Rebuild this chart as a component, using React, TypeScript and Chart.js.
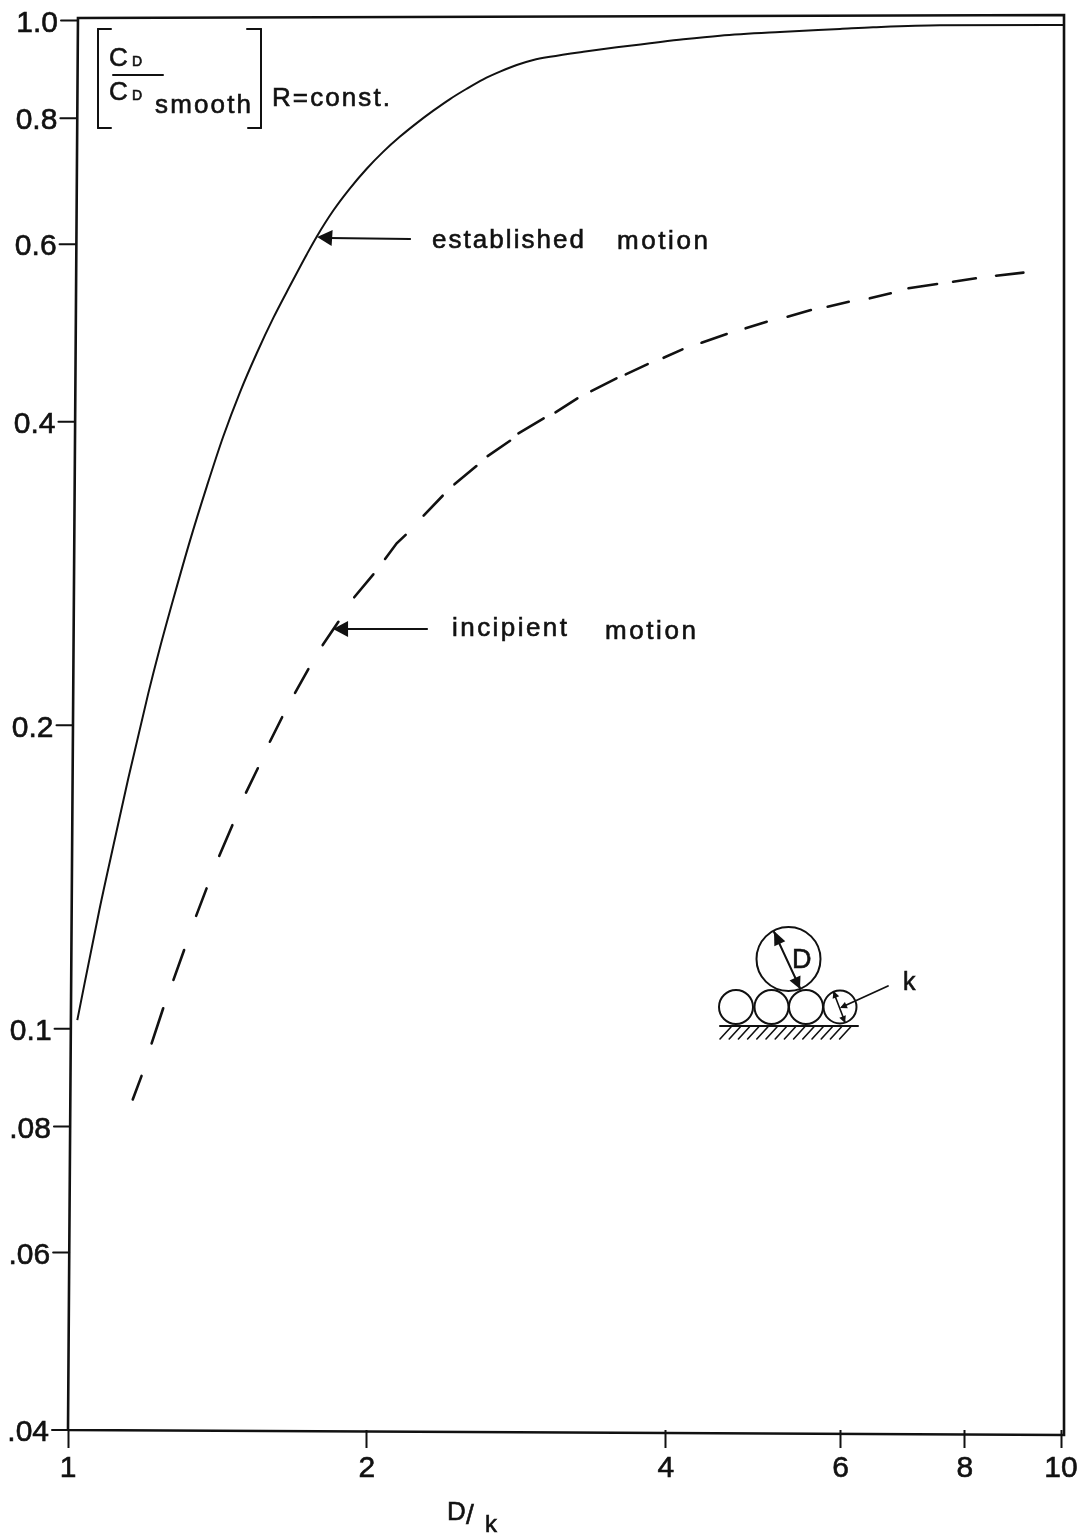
import React, { useEffect, useRef } from "react";
import { Chart, registerables } from "chart.js";

Chart.register(...registerables);

// D/k tick marks and labels
const xTickValues = [1, 2, 4, 6, 8, 10];
const xTickLabels = ["1", "2", "4", "6", "8", "10"];
// drag ratio tick marks and labels
const yTickValues = [1.0, 0.8, 0.6, 0.4, 0.2, 0.1, 0.08, 0.06, 0.04];
const yTickLabels = ["1.0", "0.8", "0.6", "0.4", "0.2", "0.1", ".08", ".06", ".04"];

// established motion (solid curve)
const establishedX = [1.0218, 1.0753, 1.1152, 1.1501, 1.2046, 1.2359, 1.2766, 1.327, 1.3795, 1.4333, 1.4899, 1.549, 1.6098, 1.6733, 1.7394, 1.7802, 1.85, 1.923, 1.999, 2.0777, 2.1597, 2.2447, 2.3328, 2.4249, 2.5206, 2.6196, 2.723, 2.8305, 2.9418, 3.0578, 3.3034, 3.5691, 3.8557, 4.166, 4.5353, 5.2121, 5.99, 6.467, 7.552, 10.05];
const establishedY = [0.102, 0.1311, 0.1545, 0.1772, 0.2151, 0.2375, 0.2668, 0.3049, 0.3449, 0.3867, 0.4278, 0.4677, 0.507, 0.5456, 0.5861, 0.6104, 0.6479, 0.6816, 0.7128, 0.7412, 0.7671, 0.7911, 0.8139, 0.8358, 0.8557, 0.8743, 0.8897, 0.9034, 0.9138, 0.9206, 0.9312, 0.9406, 0.9493, 0.958, 0.9659, 0.9741, 0.9808, 0.9846, 0.9893, 0.9898];

// incipient motion (hand-drawn dashes, null separates one dash from the next)
const incipientX = [1.162, 1.186, 1.186, 1.214, 1.247, 1.247, 1.277, 1.309, 1.309, 1.346, 1.379, 1.379, 1.42, 1.464, 1.464, 1.511, 1.553, 1.553, 1.597, 1.643, 1.643, 1.693, 1.746, 1.746, 1.805, 1.872, 1.872, 1.942, 2.03, 2.03, 2.086, 2.143, 2.188, 2.188, 2.281, 2.384, 2.384, 2.45, 2.578, 2.578, 2.646, 2.787, 2.787, 2.842, 3.013, 3.013, 3.097, 3.258, 3.258, 3.365, 3.567, 3.567, 3.645, 3.835, 3.835, 3.979, 4.157, 4.157, 4.345, 4.606, 4.606, 4.813, 5.054, 5.054, 5.305, 5.599, 5.599, 5.821, 6.113, 6.113, 6.419, 6.739, 6.739, 7.021, 7.502, 7.502, 7.786, 8.208, 8.208, 8.602, 9.165];
const incipientY = [0.0851, 0.0898, null, 0.0967, 0.1048, null, 0.1118, 0.1197, null, 0.1294, 0.1378, null, 0.1484, 0.1592, null, 0.1715, 0.1813, null, 0.1926, 0.2037, null, 0.2154, 0.2274, null, 0.2402, 0.2533, null, 0.2679, 0.2823, null, 0.2924, 0.303, 0.3089, null, 0.3228, 0.3378, null, 0.3467, 0.3615, null, 0.3698, 0.383, null, 0.3896, 0.4031, null, 0.4087, 0.4219, null, 0.429, 0.4416, null, 0.4457, 0.4563, null, 0.4629, 0.4719, null, 0.4791, 0.4887, null, 0.4951, 0.5026, null, 0.5084, 0.5162, null, 0.5201, 0.5261, null, 0.5302, 0.5363, null, 0.5425, 0.5478, null, 0.5507, 0.555, null, 0.5583, 0.5623];

// the hand-ruled plot frame is slightly out of square
const frameX = [1.0, 1.0234, 10.07, 10.07, 1.0];
const frameY = [0.04, 1.0057, 1.0126, 0.03954, 0.04];

const INK = "#111111";
const AXIS_FAMILY = "Liberation Sans";
const AXIS_FONT = `30px "${AXIS_FAMILY}"`;
const NOTE_FONT = '"Liberation Sans"';

function fitText(ctx: CanvasRenderingContext2D, text: string, x0: number, x1: number, base: number, font: string) {
  ctx.font = font;
  (ctx as any).letterSpacing = "0px";
  const w = ctx.measureText(text).width;
  const n = Math.max(text.length - 1, 1);
  (ctx as any).letterSpacing = `${(x1 - x0 - w) / n}px`;
  ctx.textAlign = "left";
  ctx.textBaseline = "alphabetic";
  ctx.lineWidth = 0.6;
  ctx.strokeText(text, x0, base);
  ctx.fillText(text, x0, base);
  (ctx as any).letterSpacing = "0px";
}

function seg(ctx: CanvasRenderingContext2D, x0: number, y0: number, x1: number, y1: number, w: number) {
  ctx.lineWidth = w;
  ctx.beginPath();
  ctx.moveTo(x0, y0);
  ctx.lineTo(x1, y1);
  ctx.stroke();
}

function head(ctx: CanvasRenderingContext2D, tx: number, ty: number, fx: number, fy: number, len: number, half: number) {
  const a = Math.atan2(fy - ty, fx - tx);
  const bx = tx + Math.cos(a) * len;
  const by = ty + Math.sin(a) * len;
  ctx.beginPath();
  ctx.moveTo(tx, ty);
  ctx.lineTo(bx - Math.sin(a) * half, by + Math.cos(a) * half);
  ctx.lineTo(bx + Math.sin(a) * half, by - Math.cos(a) * half);
  ctx.closePath();
  ctx.fill();
}

function circle(ctx: CanvasRenderingContext2D, x: number, y: number, r: number) {
  ctx.lineWidth = 2;
  ctx.beginPath();
  ctx.arc(x, y, r, 0, Math.PI * 2);
  ctx.stroke();
}

const overlay = {
  id: "overlay",
  afterDraw(chart: any) {
    const ctx: CanvasRenderingContext2D = chart.ctx;
    const xs = chart.scales.x;
    const ys = chart.scales.y;
    ctx.save();
    ctx.strokeStyle = INK;
    ctx.fillStyle = INK;
    ctx.lineCap = "round";

    // y ticks follow the slanted left edge of the frame
    const bottom = ys.getPixelForValue(0.04);
    yTickValues.forEach((v, i) => {
      const py = ys.getPixelForValue(v);
      const lean = (9 * (bottom - py)) / (bottom - ys.getPixelForValue(1));
      seg(ctx, xs.left + lean, py, xs.left + lean - 16, py, 2);
      ctx.font = AXIS_FONT;
      ctx.textAlign = "right";
      ctx.textBaseline = "middle";
      ctx.lineWidth = 0.6;
      ctx.strokeText(yTickLabels[i], xs.left - 19 + lean, py + 3);
      ctx.fillText(yTickLabels[i], xs.left - 19 + lean, py + 3);
    });

    // bracketed ordinate label
    seg(ctx, 98, 29, 98, 128, 2);
    seg(ctx, 98, 29, 111, 29, 2);
    seg(ctx, 98, 128, 111, 128, 2);
    seg(ctx, 261, 29, 261, 128, 2);
    seg(ctx, 261, 29, 247, 29, 2);
    seg(ctx, 261, 128, 248, 128, 2);
    seg(ctx, 113, 75, 163, 75, 2);
    fitText(ctx, "C", 109, 124, 66, `26px ${NOTE_FONT}`);
    fitText(ctx, "D", 132, 142, 66, `14px ${NOTE_FONT}`);
    fitText(ctx, "C", 109, 124, 100, `26px ${NOTE_FONT}`);
    fitText(ctx, "D", 132, 142, 100, `14px ${NOTE_FONT}`);
    fitText(ctx, "smooth", 155, 251, 113, `26px ${NOTE_FONT}`);
    fitText(ctx, "R=const.", 272, 390, 106, `26px ${NOTE_FONT}`);

    // curve annotations
    const ex = xs.getPixelForValue(1.782);
    const ey = ys.getPixelForValue(0.61);
    head(ctx, ex, ey, ex + 15, ey + 1, 15, 8);
    seg(ctx, ex + 12, ey + 1, ex + 93, ey + 2, 2);
    fitText(ctx, "established", 432, 584, 248, `26px ${NOTE_FONT}`);
    fitText(ctx, "motion", 617, 708, 249, `26px ${NOTE_FONT}`);

    const ix = xs.getPixelForValue(1.849);
    const iy = ys.getPixelForValue(0.2491);
    head(ctx, ix, iy, ix + 15, iy, 15, 8);
    seg(ctx, ix + 12, iy, ix + 94, iy, 2);
    fitText(ctx, "incipient", 452, 567, 636, `26px ${NOTE_FONT}`);
    fitText(ctx, "motion", 605, 696, 639, `26px ${NOTE_FONT}`);

    // sketch of the roughness spheres
    circle(ctx, 788.5, 959, 32);
    [736, 771.5, 806].forEach((cx) => circle(ctx, cx, 1007, 17));
    circle(ctx, 840, 1007, 16.5);
    seg(ctx, 720, 1026, 858, 1026, 2);
    for (let hx = 731; hx <= 858; hx += 9.2) seg(ctx, hx, 1027, hx - 11, 1039, 1.6);
    seg(ctx, 774, 932, 800, 988, 2);
    head(ctx, 774, 931, 800, 988, 14, 6);
    head(ctx, 800, 989, 774, 932, 12, 6);
    fitText(ctx, "D", 792, 808, 968, `27px ${NOTE_FONT}`);
    seg(ctx, 833.5, 992, 845, 1022, 1.6);
    head(ctx, 833.5, 991, 845, 1022, 7, 3.5);
    head(ctx, 845, 1023, 833.5, 992, 7, 3.5);
    seg(ctx, 888, 986, 842, 1007, 1.8);
    head(ctx, 840, 1008, 888, 986, 7, 3.5);
    fitText(ctx, "k", 903, 915, 990, `25px ${NOTE_FONT}`);

    // abscissa name, with the k set lower like the original lettering
    fitText(ctx, "D", 447, 463, 1520, `26px ${NOTE_FONT}`);
    fitText(ctx, "/", 466, 476, 1524, `28px ${NOTE_FONT}`);
    fitText(ctx, "k", 485, 497, 1532, `24px ${NOTE_FONT}`);
    ctx.restore();
  },
};

export default function App() {
  const ref = useRef<HTMLCanvasElement | null>(null);
  useEffect(() => {
    document.body.style.margin = "0";
    document.body.style.background = "#ffffff";
    const toPoints = (xv: number[], yv: (number | null)[]) => xv.map((x, i) => ({ x, y: yv[i] }));
    const chart = new Chart(ref.current as HTMLCanvasElement, {
      type: "line",
      data: {
        datasets: [
          {
            label: "frame",
            data: toPoints(frameX, frameY),
            borderColor: INK,
            borderWidth: 2.6,
            pointRadius: 0,
            tension: 0,
            clip: false,
          },
          {
            label: "established motion",
            data: toPoints(establishedX, establishedY),
            borderColor: INK,
            borderWidth: 2,
            pointRadius: 0,
            cubicInterpolationMode: "monotone",
            clip: false,
          },
          {
            label: "incipient motion",
            data: toPoints(incipientX, incipientY),
            borderColor: INK,
            borderWidth: 2.6,
            borderCapStyle: "round",
            pointRadius: 0,
            tension: 0,
            spanGaps: false,
            clip: false,
          },
        ] as any,
      },
      options: {
        responsive: false,
        animation: false,
        events: [],
        layout: { padding: { left: 68, right: 23, top: 20.5, bottom: 0 } },
        plugins: { legend: { display: false }, tooltip: { enabled: false }, title: { display: false } },
        scales: {
          x: {
            type: "logarithmic",
            min: 1,
            max: 10,
            border: { display: false },
            grid: { drawOnChartArea: false, drawTicks: true, tickLength: 18, tickWidth: 2, tickColor: INK },
            afterBuildTicks: (s: any) => {
              s.ticks = xTickValues.map((value) => ({ value }));
            },
            afterFit: (s: any) => {
              s.height = 104;
            },
            ticks: {
              autoSkip: false,
              maxRotation: 0,
              minRotation: 0,
              padding: 3,
              color: INK,
              textStrokeColor: INK,
              textStrokeWidth: 0.6,
              font: { family: AXIS_FAMILY, size: 30 },
              callback: (v: any) => xTickLabels[xTickValues.indexOf(Number(v))] ?? "",
            },
          },
          y: {
            type: "logarithmic",
            min: 0.04,
            max: 1,
            border: { display: false },
            grid: { display: false },
            afterBuildTicks: (s: any) => {
              s.ticks = yTickValues.map((value) => ({ value }));
            },
            afterFit: (s: any) => {
              s.width = 0;
            },
            ticks: { display: false },
          },
        },
      } as any,
      plugins: [overlay as any],
    });
    return () => chart.destroy();
  }, []);
  return (
    <div style={{ position: "absolute", left: 0, top: 0, width: 1084, height: 1534, background: "#fff" }}>
      <canvas ref={ref} width={1084} height={1534} style={{ display: "block" }} />
    </div>
  );
}
